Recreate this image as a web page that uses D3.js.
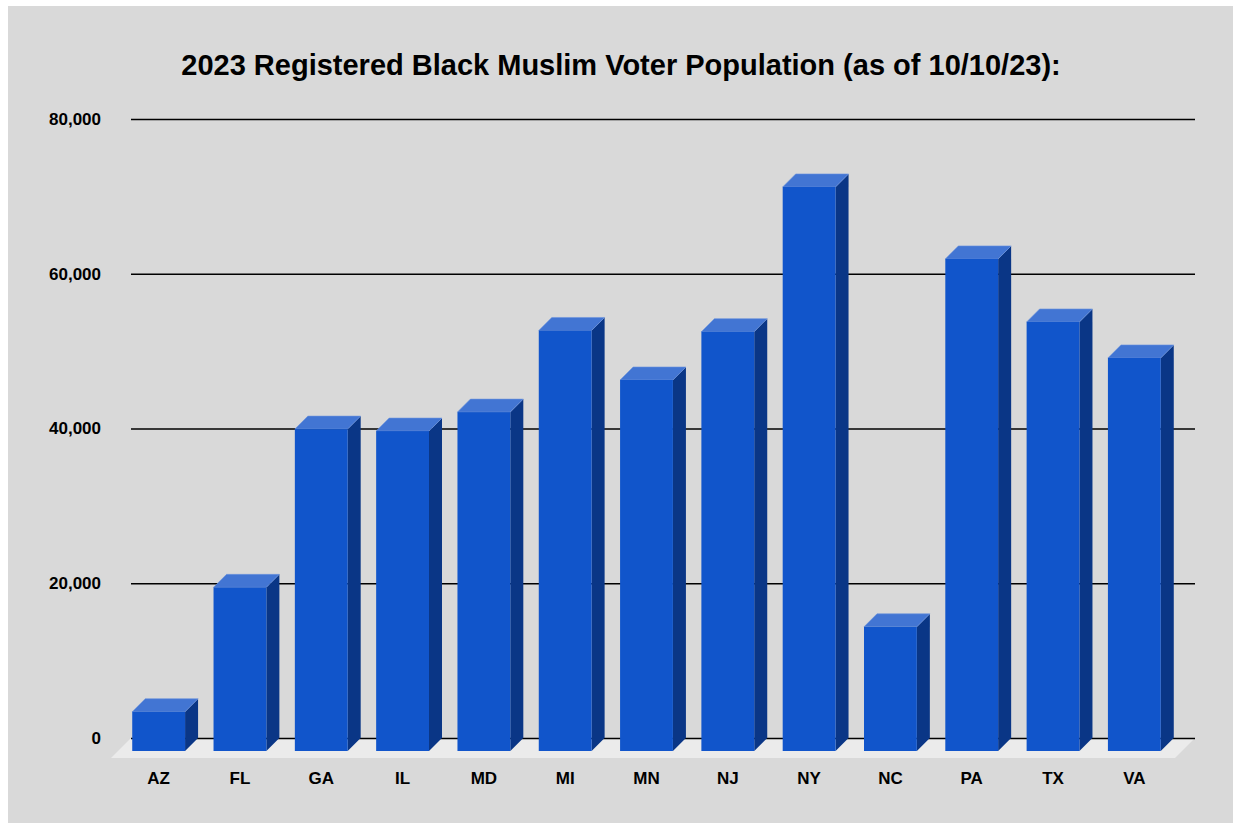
<!DOCTYPE html>
<html>
<head>
<meta charset="utf-8">
<script src="https://cdn.jsdelivr.net/npm/d3@7"></script>
<style>
  body { margin: 0; background: #fff; }
  svg { display: block; font-family: Arial, "Liberation Sans", sans-serif; }
</style>
</head>
<body>
<svg id="chart" width="1235" height="823"></svg>
<script>
// data
const states = ["AZ", "FL", "GA", "IL", "MD", "MI", "MN", "NJ", "NY", "NC", "PA", "TX", "VA"];
const voters = [5080, 21150, 41600, 41350, 43800, 54350, 47950, 54200, 72900, 16050, 63600, 55450, 50800];
const yTicks = [0, 20000, 40000, 60000, 80000];
const title = "2023 Registered Black Muslim Voter Population (as of 10/10/23):";

const svg = d3.select("#chart");
const depth = 13;          // 3d offset of bars
const floorDepth = 20;
const gridLeft = 131, gridRight = 1195;

svg.append("rect")
	.attr("x", 8).attr("y", 6)
	.attr("width", 1225).attr("height", 817)
	.attr("fill", "#d9d9d9");

svg.append("text")
	.attr("x", 621).attr("y", 75)
	.attr("text-anchor", "middle")
	.attr("font-size", 29).attr("font-weight", "bold")
	.attr("fill", "#000")
	.text(title);

const x = d3.scaleBand()
	.domain(states)
	.range([131, 1188])
	.paddingInner(0.35)
	.paddingOuter(0.175);

const y = d3.scaleLinear()
	.domain([0, 80000])
	.range([738, 119]);

// floor
svg.append("path")
	.attr("d", `M${gridLeft},${y(0)}L${gridRight},${y(0)}L${gridRight - floorDepth},${y(0) + floorDepth}L${gridLeft - floorDepth},${y(0) + floorDepth}Z`)
	.attr("fill", "#ebebeb");

// gridlines + labels
const yAxis = svg.append("g")
	.attr("transform", `translate(${gridLeft},0)`)
	.call(d3.axisLeft(y)
		.tickValues(yTicks)
		.tickFormat(d3.format(","))
		.tickSize(-(gridRight - gridLeft))
		.tickPadding(30));
yAxis.select(".domain").remove();
yAxis.selectAll("line").attr("stroke", "#000").attr("stroke-width", 1.3);
yAxis.selectAll("text")
	.attr("font-size", 17).attr("font-weight", "bold")
	.attr("fill", "#000")
	.attr("font-family", "Arial, 'Liberation Sans', sans-serif");

// bars
const bars = svg.append("g").selectAll("g")
	.data(states.map((s, i) => ({ state: s, value: voters[i] })))
	.join("g");

const w = x.bandwidth();

// side face
bars.append("path")
	.attr("d", d => {
		const xr = x(d.state) + w;
		return `M${xr - depth},${y(d.value) + depth}L${xr},${y(d.value)}L${xr},${y(0)}L${xr - depth},${y(0) + depth}Z`;
	})
	.attr("fill", "#0a3686");

// top face
bars.append("path")
	.attr("d", d => {
		const xl = x(d.state);
		const yt = y(d.value);
		return `M${xl - depth},${yt + depth}L${xl},${yt}L${xl + w},${yt}L${xl + w - depth},${yt + depth}Z`;
	})
	.attr("fill", "#4275d3")
	.attr("stroke", "#6b93dd").attr("stroke-width", 0.6);

// front face
bars.append("rect")
	.attr("x", d => x(d.state) - depth)
	.attr("y", d => y(d.value) + depth)
	.attr("width", w)
	.attr("height", d => y(0) - y(d.value))
	.attr("fill", "#1155cb");

// category labels
svg.append("g").selectAll("text")
	.data(states)
	.join("text")
	.attr("x", d => x(d) - depth + w / 2)
	.attr("y", 784)
	.attr("text-anchor", "middle")
	.attr("font-size", 17).attr("font-weight", "bold")
	.attr("fill", "#000")
	.text(d => d);
</script>
</body>
</html>
